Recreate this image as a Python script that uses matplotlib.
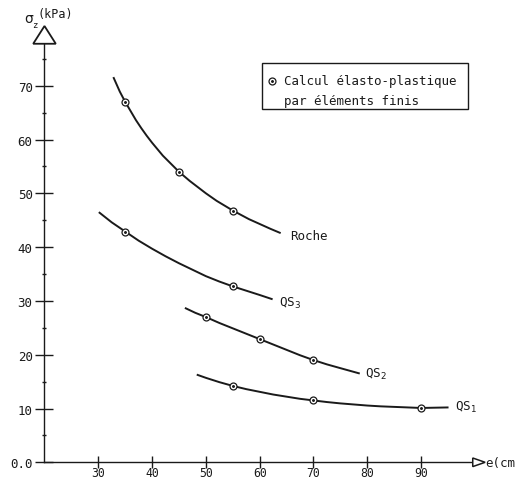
import matplotlib
matplotlib.use("Agg")
import matplotlib.pyplot as plt
from matplotlib.patches import Polygon, Rectangle

# Computed points (elasto-plastic FE) per curve
roche_pts_x = [35, 45, 55]
roche_pts_y = [67.0, 54.0, 46.8]
qs3_pts_x = [35, 55]
qs3_pts_y = [42.9, 32.7]
qs2_pts_x = [50, 60, 70]
qs2_pts_y = [27.0, 22.9, 19.0]
qs1_pts_x = [55, 70, 90]
qs1_pts_y = [14.2, 11.5, 10.1]

# Curves
roche_x = [32.8, 34, 35, 36, 37, 38, 39, 40, 42, 44, 45, 47, 50, 52, 55, 58, 60, 62, 63.9]
roche_y = [71.6, 68.9, 67.0, 65.3, 63.6, 62.1, 60.7, 59.4, 57.0, 55.0, 54.0, 52.3,
           50.0, 48.6, 46.8, 45.2, 44.3, 43.4, 42.6]
qs3_x = [30.1, 32.5, 35, 37.5, 40, 42.5, 45, 47.5, 50, 52.5, 55, 57.5, 60, 62.4]
qs3_y = [46.5, 44.6, 42.9, 41.2, 39.7, 38.3, 37.0, 35.8, 34.6, 33.6, 32.7, 31.9, 31.1, 30.3]
qs2_x = [46.1, 48, 50, 52.5, 55, 57.5, 60, 62.5, 65, 67.5, 70, 72.5, 75, 78.6]
qs2_y = [28.7, 27.8, 27.0, 25.9, 24.9, 23.9, 22.9, 21.9, 20.9, 19.9, 19.0, 18.2, 17.5, 16.5]
qs1_x = [48.3, 50, 52.5, 55, 57.5, 60, 62.5, 65, 67.5, 70, 72.5, 75, 77.5, 80, 82.5,
         85, 87.5, 90, 92.5, 95.1]
qs1_y = [16.3, 15.7, 14.9, 14.2, 13.6, 13.1, 12.6, 12.2, 11.8, 11.5, 11.2, 10.95, 10.75,
         10.55, 10.4, 10.3, 10.2, 10.1, 10.15, 10.2]

curve_labels = ["Roche", "QS$_3$", "QS$_2$", "QS$_1$"]
label_pos = [(65.6, 42.1), (63.6, 29.8), (79.6, 16.6), (96.3, 10.3)]

y_major = [0, 10, 20, 30, 40, 50, 60, 70]
y_major_labels = ["0.0", "10", "20", "30", "40", "50", "60", "70"]
y_minor = [5, 15, 25, 35, 45, 55, 65, 75]
x_major = [30, 40, 50, 60, 70, 80, 90]

ink = "#1a1a1a"
mono = "DejaVu Sans Mono"

fig = plt.figure(figsize=(5.21, 4.81), dpi=100)
ax = fig.add_axes([0, 0, 1, 1])
ax.set_xlim(11.73, 108.57)
ax.set_ylim(-3.29, 86.12)

# axes as spines through the origin
for s in ["top", "right"]:
    ax.spines[s].set_visible(False)
ax.spines["left"].set_position(("data", 20))
ax.spines["left"].set_bounds(0, 78)
ax.spines["bottom"].set_position(("data", 0))
ax.spines["bottom"].set_bounds(20, 99.8)
for s in ["left", "bottom"]:
    ax.spines[s].set_color(ink)
    ax.spines[s].set_linewidth(1.0)

ax.set_yticks(y_major)
ax.set_yticklabels(y_major_labels, fontfamily=mono, fontsize=9, color=ink)
ax.set_yticks(y_minor, minor=True)
ax.set_xticks(x_major)
ax.set_xticklabels([str(v) for v in x_major], fontfamily=mono, fontsize=8.3, color=ink)
ax.tick_params(axis="y", which="major", direction="inout", length=13, width=1.0, pad=2, colors=ink)
ax.tick_params(axis="y", which="minor", direction="inout", length=3, width=1.0, colors=ink)
ax.tick_params(axis="x", which="major", direction="inout", length=9, width=1.0, pad=-1.8, colors=ink)

# open arrow heads
ax.add_patch(Polygon([[17.9, 77.8], [22.1, 77.8], [20, 81.1]], closed=True,
                     facecolor="white", edgecolor=ink, lw=1.3, zorder=5))
ax.add_patch(Polygon([[99.6, -0.8], [99.6, 0.8], [101.9, 0]], closed=True,
                     facecolor="white", edgecolor=ink, lw=1.1, zorder=5))
ax.text(101.9, 0, "e(cm", fontfamily=mono, fontsize=9, color=ink, va="center", ha="left")

# axis title: sigma, subscript z, unit
ax.text(16.3, 82.6, "σ", fontsize=10, color=ink, va="center", ha="left")
ax.text(17.7, 81.4, "z", fontfamily=mono, fontsize=6.5, color=ink, va="center", ha="left")
ax.text(18.75, 83.4, "(kPa)", fontfamily=mono, fontsize=8.5, color=ink, va="center", ha="left")

# curves and computed points
curves = [(roche_x, roche_y, roche_pts_x, roche_pts_y),
          (qs3_x, qs3_y, qs3_pts_x, qs3_pts_y),
          (qs2_x, qs2_y, qs2_pts_x, qs2_pts_y),
          (qs1_x, qs1_y, qs1_pts_x, qs1_pts_y)]
for (cx, cy, px, py), lab, (lx, ly) in zip(curves, curve_labels, label_pos):
    ax.plot(cx, cy, color=ink, lw=1.4, solid_capstyle="butt", solid_joinstyle="round")
    ax.plot(px, py, "o", ms=5, mfc="white", mec=ink, mew=0.9, zorder=4)
    ax.plot(px, py, ".", ms=2.2, color=ink, zorder=5)
    ax.text(lx, ly, lab, fontfamily=mono, fontsize=9, color=ink, va="center", ha="left")

# legend box
ax.add_patch(Rectangle((0.502, 0.771), 0.397, 0.096, transform=ax.transAxes,
                       facecolor="none", edgecolor=ink, lw=1.0))
ax.plot([0.522], [0.830], "o", ms=5, mfc="white", mec=ink, mew=0.9, transform=ax.transAxes)
ax.plot([0.522], [0.830], ".", ms=2.2, color=ink, transform=ax.transAxes)
ax.text(0.546, 0.830, "Calcul élasto-plastique", fontfamily=mono, fontsize=9,
        color=ink, va="center", ha="left", transform=ax.transAxes)
ax.text(0.546, 0.788, "par éléments finis", fontfamily=mono, fontsize=9,
        color=ink, va="center", ha="left", transform=ax.transAxes)

fig.savefig("out.png", dpi=100)
